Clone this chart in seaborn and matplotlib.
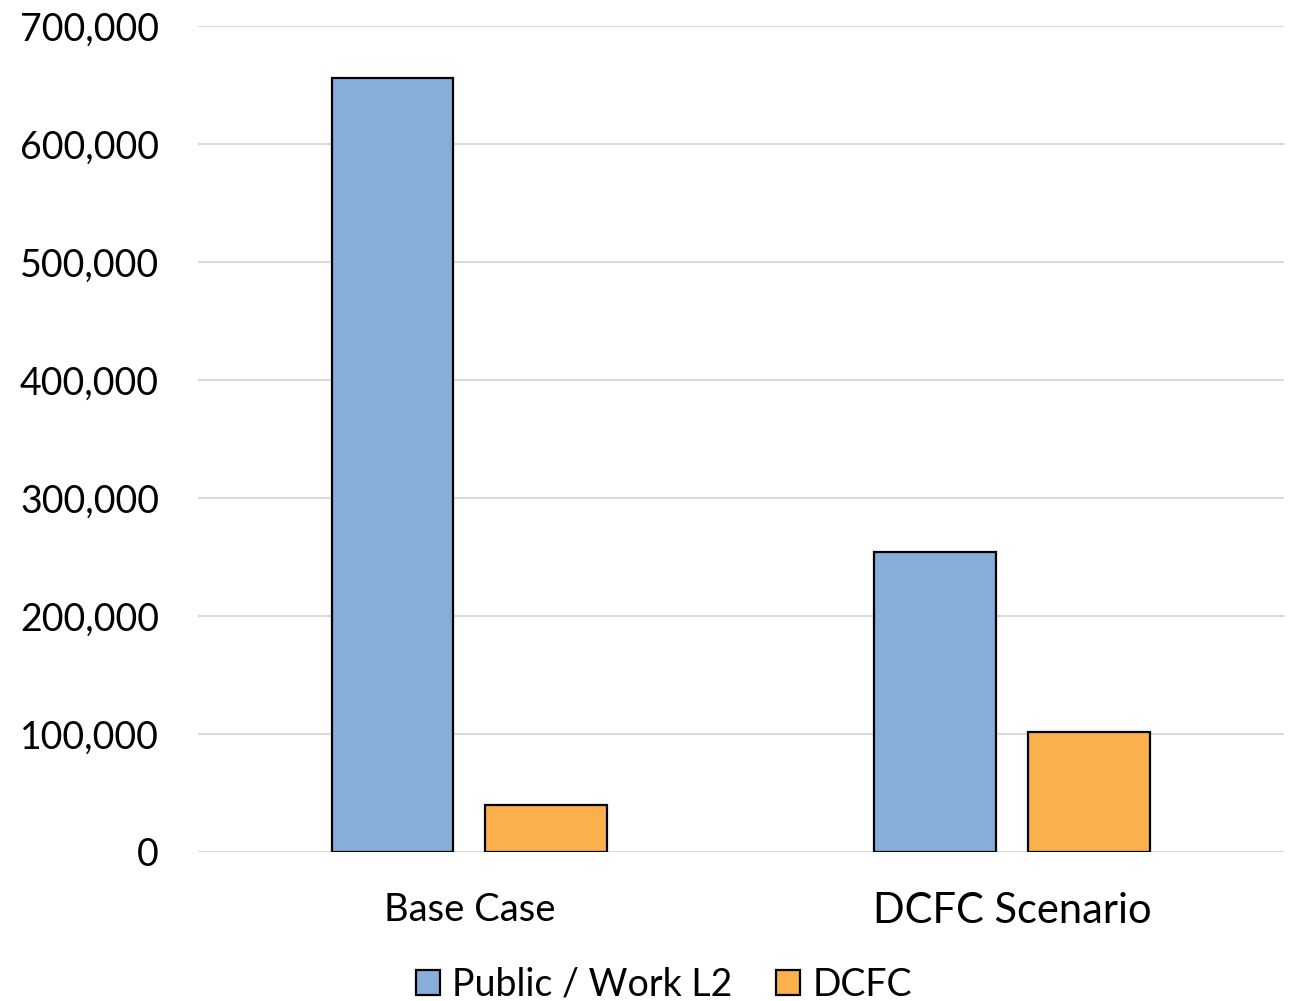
import matplotlib.pyplot as plt
import pandas as pd
import seaborn as sns

scenarios = ["Base Case", "DCFC Scenario"]
charger_types = ["Public / Work L2", "DCFC"]
l2_counts = [656000, 254000]
dcfc_counts = [39500, 102000]
y_ticks = [0, 100000, 200000, 300000, 400000, 500000, 600000, 700000]

palette = {"Public / Work L2": "#86AED9", "DCFC": "#F9B04D"}

sns.set_theme(style="white")
plt.rcParams["font.family"] = ["Lato", "DejaVu Sans"]
plt.rcParams["text.color"] = "black"
plt.rcParams["xtick.color"] = "black"
plt.rcParams["ytick.color"] = "black"


def main() -> None:
    df = pd.DataFrame(
        {
            "scenario": scenarios * 2,
            "type": [charger_types[0]] * 2 + [charger_types[1]] * 2,
            "count": l2_counts + dcfc_counts,
        }
    )

    fig = plt.figure(figsize=(12.94, 10.01), dpi=100)
    ax = fig.add_axes([0.153, 0.149, 0.839, 0.825])

    sns.barplot(
        data=df,
        x="scenario",
        y="count",
        hue="type",
        hue_order=charger_types,
        order=scenarios,
        palette=palette,
        width=0.567,
        gap=0.208,
        edgecolor="black",
        linewidth=1.6,
        saturation=1,
        ax=ax,
        zorder=3,
    )

    ax.set_xlim(-0.5, 1.5)
    ax.set_ylim(0, 700000)
    ax.set_yticks(y_ticks)
    ax.set_yticklabels([f"{v:,}" for v in y_ticks], fontsize=27)
    ax.yaxis.grid(True, color="#D9D9D9", linewidth=1.5, zorder=0)
    ax.set_axisbelow(True)
    ax.tick_params(axis="y", length=0, pad=28)
    ax.tick_params(axis="x", length=0, pad=29)
    for lbl, size in zip(ax.get_xticklabels(), [27.5, 30]):
        lbl.set_fontsize(size)
    ax.set_xlabel("")
    ax.set_ylabel("")
    for s in ax.spines.values():
        s.set_visible(False)

    handles, labels = ax.get_legend_handles_labels()
    ax.legend_.remove()
    fig.legend(
        handles,
        labels,
        loc="center",
        bbox_to_anchor=(0.513, 0.016),
        ncol=2,
        frameon=False,
        fontsize=27,
        handlelength=0.65,
        handleheight=0.65,
        handletextpad=0.32,
        columnspacing=1.15,
    )

    fig.savefig("out.png", dpi=100)
    plt.close(fig)


if __name__ == "__main__":
    main()
